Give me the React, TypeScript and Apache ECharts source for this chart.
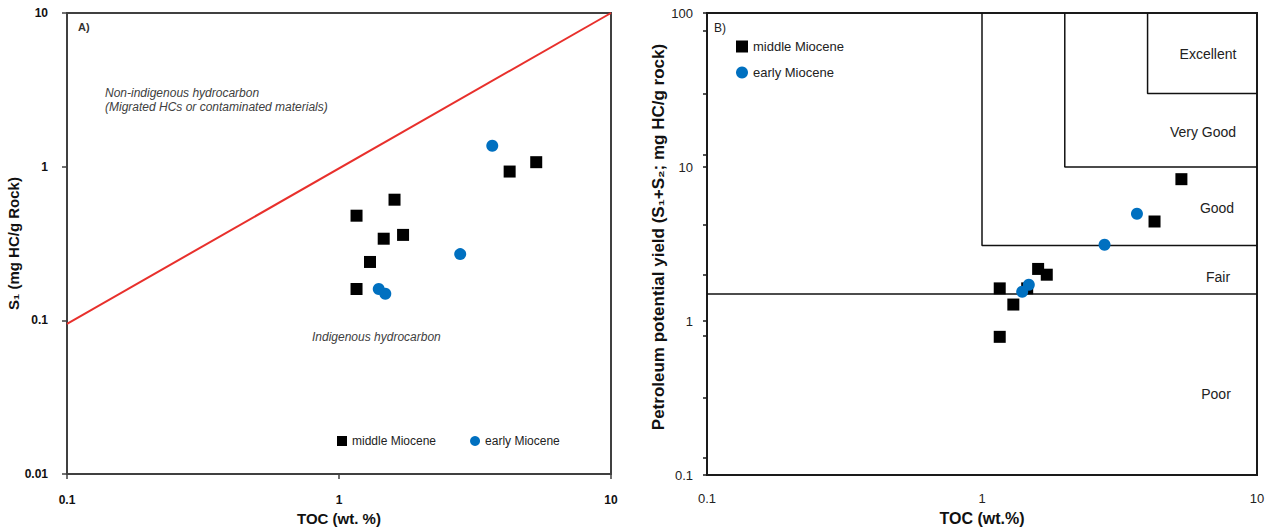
import React, { useEffect, useRef } from 'react';
import * as echarts from 'echarts';

// ---- Data ----
const seriesNames = ['middle Miocene', 'early Miocene'];

// middle Miocene samples
const tocMiddle = [1.16, 1.6, 1.46, 1.72, 1.3, 1.16, 4.24, 5.31];
const s1Middle = [0.48, 0.61, 0.34, 0.36, 0.24, 0.16, 0.93, 1.07];
const ppMiddle = [1.63, 2.18, 1.63, 2.0, 1.28, 0.79, 4.43, 8.34];

// early Miocene samples
const tocEarly = [3.66, 2.79, 1.4, 1.48];
const s1Early = [1.37, 0.27, 0.16, 0.149];
const ppEarly = [4.97, 3.13, 1.55, 1.72];

// Panel A boundary between indigenous / non-indigenous
const indigenousLimit = [[0.1, 0.095], [10, 10]];

// Panel B source-rock potential boundaries
const poorFairLimit = [[0.1, 1.5], [10, 1.5]];
const fairGoodLimit = [[1, 100], [1, 3.1], [10, 3.1]];
const goodVeryGoodLimit = [[2, 100], [2, 10], [10, 10]];
const veryGoodExcellentLimit = [[4, 100], [4, 30], [10, 30]];

// Panel B y-axis tick positions (major + minor)
const yTicksB = [0.1, 0.13, 0.32, 0.8, 1, 2, 4.2, 10, 12, 30, 77, 100];

const FONT = '"Liberation Sans", Arial, Helvetica, sans-serif';
const BLUE = '#0070C0';

export default function App() {
  const ref = useRef<HTMLDivElement>(null);

  useEffect(() => {
    const chart = echarts.init(ref.current!, null, { renderer: 'svg' });

    const midA = tocMiddle.map((t, i) => [t, s1Middle[i]]);
    const earlyA = tocEarly.map((t, i) => [t, s1Early[i]]);
    const midB = tocMiddle.map((t, i) => [t, ppMiddle[i]]);
    const earlyB = tocEarly.map((t, i) => [t, ppEarly[i]]);

    const boundaryLine = (data: number[][]) => ({
      type: 'line',
      xAxisIndex: 1,
      yAxisIndex: 1,
      data,
      symbol: 'none',
      silent: true,
      lineStyle: { color: '#111', width: 1.5 },
      z: 1,
    });

    const option: any = {
      animation: false,
      backgroundColor: '#fff',
      textStyle: { fontFamily: FONT },
      grid: [
        { left: 67, top: 13, width: 544, height: 467, show: true, borderColor: '#404040', borderWidth: 2, containLabel: false },
        { left: 707, top: 13, width: 550, height: 467, show: true, borderColor: '#1a1a1a', borderWidth: 2, containLabel: false },
      ],
      xAxis: [
        {
          gridIndex: 0, type: 'log', logBase: 10, min: 0.1, max: 10,
          name: 'TOC (wt. %)', nameLocation: 'middle', nameGap: 33,
          nameTextStyle: { fontFamily: FONT, fontSize: 15, fontWeight: 'bold', color: '#111' },
          axisLine: { show: true, lineStyle: { color: '#404040', width: 2 } },
          axisTick: { show: true, length: 5, lineStyle: { color: '#404040', width: 1.5 } },
          axisLabel: { margin: 20, fontFamily: FONT, fontSize: 12, fontWeight: 'bold', color: '#111' },
          splitLine: { show: false },
        },
        {
          gridIndex: 1, type: 'log', logBase: 10, min: 0.1, max: 10,
          name: 'TOC (wt.%)', nameLocation: 'middle', nameGap: 33,
          nameTextStyle: { fontFamily: FONT, fontSize: 16, fontWeight: 'bold', color: '#111' },
          axisLine: { show: true, lineStyle: { color: '#1a1a1a', width: 2 } },
          axisTick: { show: false },
          axisLabel: { margin: 17, fontFamily: FONT, fontSize: 13, color: '#222' },
          splitLine: { show: false },
        },
      ],
      yAxis: [
        {
          gridIndex: 0, type: 'log', logBase: 10, min: 0.01, max: 10,
          name: 'S\u2081 (mg HC/g Rock)', nameLocation: 'middle', nameGap: 45,
          nameTextStyle: { fontFamily: FONT, fontSize: 15, fontWeight: 'bold', color: '#111' },
          axisLine: { show: true, lineStyle: { color: '#404040', width: 2 } },
          axisTick: { show: true, length: 5, lineStyle: { color: '#404040', width: 1.5 } },
          axisLabel: { margin: 19, fontFamily: FONT, fontSize: 12, fontWeight: 'bold', color: '#111' },
          splitLine: { show: false },
        },
        {
          gridIndex: 1, type: 'log', logBase: 10, min: 0.1, max: 100,
          name: 'Petroleum potential yield (S\u2081+S\u2082; mg HC/g rock)', nameLocation: 'middle', nameGap: 37,
          nameTextStyle: { fontFamily: FONT, fontSize: 17, fontWeight: 'bold', color: '#111', padding: [0, 0, 0, 14] },
          axisLine: { show: true, lineStyle: { color: '#1a1a1a', width: 2 } },
          axisTick: { show: true, length: 4, customValues: yTicksB, lineStyle: { color: '#1a1a1a', width: 1.5 } },
          axisLabel: { margin: 14, fontFamily: FONT, fontSize: 13, color: '#222' },
          splitLine: { show: false },
        },
      ],
      legend: [
        {
          data: seriesNames, left: 337, top: 435, orient: 'horizontal', padding: 0,
          itemWidth: 10, itemHeight: 10, itemGap: 34, selectedMode: false,
          textStyle: { fontFamily: FONT, fontSize: 12, color: '#222' },
        },
        {
          data: seriesNames, left: 736, top: 40, orient: 'vertical', padding: 0,
          itemWidth: 12, itemHeight: 12, itemGap: 13, selectedMode: false,
          textStyle: { fontFamily: FONT, fontSize: 13, color: '#222' },
        },
      ],
      series: [
        {
          type: 'line', xAxisIndex: 0, yAxisIndex: 0, data: indigenousLimit,
          symbol: 'none', silent: true, lineStyle: { color: '#E8302C', width: 2 }, z: 1,
        },
        {
          name: seriesNames[0], type: 'scatter', xAxisIndex: 0, yAxisIndex: 0,
          data: midA, symbol: 'rect', symbolSize: 12, itemStyle: { color: '#000', opacity: 1 }, z: 3,
        },
        {
          name: seriesNames[1], type: 'scatter', xAxisIndex: 0, yAxisIndex: 0,
          data: earlyA, symbol: 'circle', symbolSize: 12, itemStyle: { color: BLUE, opacity: 1 }, z: 4,
        },
        boundaryLine(poorFairLimit),
        boundaryLine(fairGoodLimit),
        boundaryLine(goodVeryGoodLimit),
        boundaryLine(veryGoodExcellentLimit),
        {
          name: seriesNames[0], type: 'scatter', xAxisIndex: 1, yAxisIndex: 1,
          data: midB, symbol: 'rect', symbolSize: 12, itemStyle: { color: '#000', opacity: 1 }, z: 3,
        },
        {
          name: seriesNames[1], type: 'scatter', xAxisIndex: 1, yAxisIndex: 1,
          data: earlyB, symbol: 'circle', symbolSize: 12, itemStyle: { color: BLUE, opacity: 1 }, z: 4,
        },
      ],
      graphic: [
        { type: 'text', left: 78, top: 21, style: { text: 'A)', font: `bold 11px ${FONT}`, fill: '#333' } },
        { type: 'text', left: 714, top: 22, style: { text: 'B)', font: `12px ${FONT}`, fill: '#222' } },
        {
          type: 'text', left: 105, top: 86,
          style: {
            text: 'Non-indigenous hydrocarbon\n(Migrated HCs or contaminated materials)',
            font: `italic 12px ${FONT}`, fill: '#404040', lineHeight: 14,
          },
        },
        { type: 'text', left: 312, top: 331, style: { text: 'Indigenous hydrocarbon', font: `italic 12px ${FONT}`, fill: '#404040' } },
        { type: 'text', x: 1208, y: 54, style: { text: 'Excellent', font: `14px ${FONT}`, fill: '#222', align: 'center', verticalAlign: 'middle' } },
        { type: 'text', x: 1203, y: 132, style: { text: 'Very Good', font: `14px ${FONT}`, fill: '#222', align: 'center', verticalAlign: 'middle' } },
        { type: 'text', x: 1217, y: 208, style: { text: 'Good', font: `14px ${FONT}`, fill: '#222', align: 'center', verticalAlign: 'middle' } },
        { type: 'text', x: 1218, y: 277, style: { text: 'Fair', font: `14px ${FONT}`, fill: '#222', align: 'center', verticalAlign: 'middle' } },
        { type: 'text', x: 1216, y: 394, style: { text: 'Poor', font: `14px ${FONT}`, fill: '#222', align: 'center', verticalAlign: 'middle' } },
      ],
    };

    chart.setOption(option);
    return () => chart.dispose();
  }, []);

  return (
    <div
      ref={ref}
      style={{ position: 'absolute', left: 0, top: 0, width: 1270, height: 531, background: '#fff' }}
    />
  );
}
